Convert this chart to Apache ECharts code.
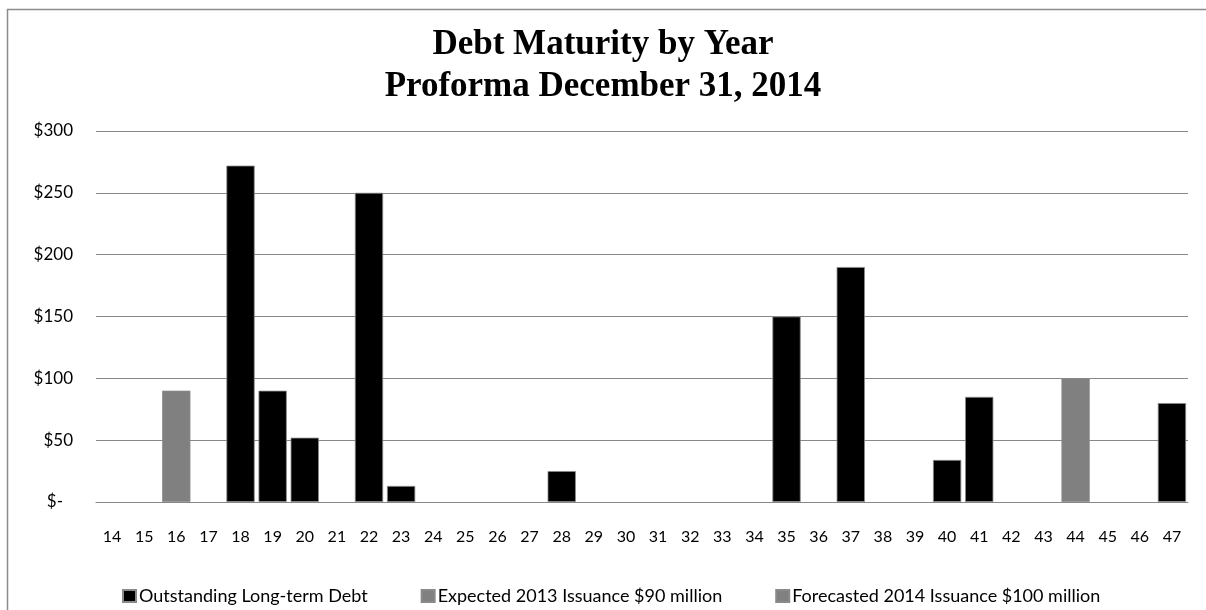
<!DOCTYPE html>
<html>
<head>
<meta charset="utf-8">
<script src="https://cdn.jsdelivr.net/npm/echarts@6/dist/echarts.min.js"></script>
<style>
  html, body { margin: 0; padding: 0; background: #fff; }
  #chart { width: 1206px; height: 610px; }
</style>
</head>
<body>
<div id="chart"></div>
<script>
// Maturity years (20xx)
const years = ['14','15','16','17','18','19','20','21','22','23','24','25','26','27','28','29','30',
               '31','32','33','34','35','36','37','38','39','40','41','42','43','44','45','46','47'];

// Amounts in $ millions, keyed by year
const outstandingDebt = { '18': 272, '19': 90, '20': 52, '22': 250, '23': 13, '28': 25,
                          '35': 150, '37': 190, '40': 34, '41': 85, '47': 80 };
const expected2013 = { '16': 90 };
const forecasted2014 = { '44': 100 };

const seriesNames = ['Outstanding Long-term Debt', 'Expected 2013 Issuance $90 million',
                     'Forecasted 2014 Issuance $100 million'];

const toSeries = (m) => years.map(y => (y in m ? m[y] : null));

const labelFont = 'Lato, "Open Sans", sans-serif';
const chart = echarts.init(document.getElementById('chart'), null, { renderer: 'canvas' });

const barSeries = (name, values, color) => ({
  name, type: 'bar', stack: 'debt', data: toSeries(values),
  barCategoryGap: '12%',
  itemStyle: { color, borderColor: '#8a8a8a', borderWidth: 0.8 },
  emphasis: { disabled: true }
});

chart.setOption({
  animation: false,
  backgroundColor: '#fff',
  graphic: [{
    type: 'rect', left: 5, top: 7,
    shape: { width: 1300, height: 700 },
    style: { fill: 'none', stroke: '#8c8c8c', lineWidth: 1.5 },
    silent: true
  }],
  title: {
    text: 'Debt Maturity by Year\nProforma December 31, 2014',
    left: 'center', top: 19,
    textStyle: { fontFamily: '"Liberation Serif", "Times New Roman", serif', fontWeight: 'bold',
                 fontSize: 35, lineHeight: 42, color: '#000' }
  },
  legend: {
    left: 117, top: 582,
    itemWidth: 13, itemHeight: 12, itemGap: 53,
    icon: 'rect',
    textStyle: { fontFamily: labelFont, fontSize: 18, color: '#000', padding: [0, 0, 0, -2] },
    data: seriesNames
  },
  grid: { left: 96, right: 18, top: 131, bottom: 108, containLabel: false },
  xAxis: {
    type: 'category', data: years,
    axisLine: { lineStyle: { color: '#888', width: 1 } },
    axisTick: { show: false },
    axisLabel: { fontFamily: labelFont, fontSize: 16, color: '#000', margin: 27, interval: 0 }
  },
  yAxis: {
    type: 'value', min: 0, max: 300, interval: 50,
    axisLine: { show: false }, axisTick: { show: false },
    splitLine: { lineStyle: { color: '#888', width: 1 } },
    axisLabel: {
      fontFamily: labelFont, fontSize: 17, color: '#000', margin: 23,
      formatter: v => (v === 0 ? '{z|$-}' : '$' + v),
      rich: { z: { fontFamily: labelFont, fontSize: 17, color: '#000', padding: [0, 10, 0, 0] } }
    }
  },
  series: [
    barSeries(seriesNames[0], outstandingDebt, '#000000'),
    barSeries(seriesNames[1], expected2013, '#808080'),
    barSeries(seriesNames[2], forecasted2014, '#808080')
  ]
});
</script>
</body>
</html>
